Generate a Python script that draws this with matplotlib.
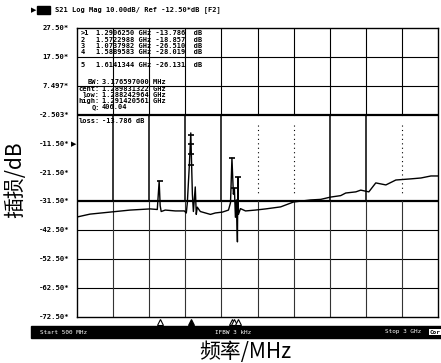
import numpy as np
import matplotlib
matplotlib.use('Agg')
import matplotlib.pyplot as plt
from matplotlib.patches import Rectangle

# trace (MHz, dB)
freq = [500, 590, 729, 868, 1007, 1056, 1069, 1076, 1083, 1111, 1181, 1243, 1257, 1264,
        1278, 1288, 1299, 1306, 1319, 1326, 1333, 1354, 1389, 1424, 1458, 1507, 1549,
        1563, 1573, 1583, 1590, 1597, 1604, 1611, 1614, 1618, 1632, 1667, 1736, 1806,
        1910, 2000, 2118, 2188, 2257, 2326, 2361, 2431, 2465, 2521, 2569, 2639, 2708,
        2813, 2882, 2951, 3000]
s21 = [-37.9, -36.9, -36.2, -35.5, -35.1, -35.3, -25.5, -34.0, -36.0, -35.5, -35.8, -35.8,
       -36.5, -33.0, -20.0, -8.8, -30.0, -36.0, -27.5, -37.0, -34.5, -36.0, -36.5, -37.0,
       -36.5, -36.2, -35.5, -33.0, -17.5, -30.0, -28.0, -38.0, -32.0, -46.5, -24.1, -37.0,
       -35.0, -35.8, -35.5, -35.1, -34.4, -32.7, -32.0, -31.8, -31.0, -30.5, -29.6, -29.2,
       -28.6, -29.2, -26.1, -26.8, -25.1, -24.7, -24.4, -23.7, -23.7]

mk_freq = [1290.6250, 1572.2988, 1073.7982, 1588.9583, 1614.1344]
mk_db = [-13.786, -18.857, -26.510, -28.019, -26.131]
mk_id = ['>1', '2', '3', '4', '5']
mk_text = ['1.2906250', '1.5722988', '1.0737982', '1.5889583', '1.6141344']
mk_val = ['-13.786', '-18.857', '-26.510', '-28.019', '-26.131']

bw_keys = ['BW:', 'cent:', 'low:', 'high:', 'Q:', 'loss:']
bw_vals = ['3.176597000 MHz', '1.289831322 GHz', '1.288242964 GHz', '1.291420561 GHz',
           '406.04', '-13.786 dB']

ytick_lab = ['27.50*', '17.50*', '7.497*', '-2.503*', '-11.50*', '-21.50*', '-31.50*',
             '-42.50*', '-52.50*', '-62.50*', '-72.50*']
yticks = [27.5 - 10 * i for i in range(11)]
xgrid = [500 + 250 * i for i in range(11)]

fig = plt.figure(figsize=(4.41, 3.63), dpi=100)
W, H = 441.0, 363.0
ax = fig.add_axes([77 / W, 1 - 317 / H, 361 / W, 289 / H])
ax.set_xlim(500, 3000)
ax.set_ylim(-72.5, 27.5)
ax.set_xticks([])
ax.set_yticks([])
for s in ax.spines.values():
    s.set_linewidth(1.0)

# horizontal grid: nothing between -2.5 and -32.5 except the two bold lines
for y in yticks[1:-1]:
    if y in (-12.5, -22.5):
        continue
    lw = 1.6 if y in (-2.5, -32.5) else 0.8
    ax.axhline(y, color='black', lw=lw, zorder=1)

# vertical grid
solid_mid = [750, 1000, 1250, 1500, 2250, 2500]
for x in xgrid[1:-1]:
    ax.plot([x, x], [27.5, -2.5], color='black', lw=0.8, zorder=1)
    ax.plot([x, x], [-32.5, -72.5], color='#333333', lw=0.8, zorder=1)
    if x in solid_mid:
        ax.plot([x, x], [-2.5, -32.5], color='black', lw=1.1, zorder=1)
    else:
        ax.plot([x, x], [-6, -30], color='black', lw=0.8, ls=(0, (1, 3)), zorder=1)

ax.plot(freq, s21, color='black', lw=1.0, zorder=3)
ax.plot(mk_freq, [-9.5, -17.5, -25.5, -28.0, -24.1], ls='none', marker='_', ms=4,
        mew=1.2, color='black', zorder=4)
ax.plot([1290, 1290, 1290], [-12.5, -16, -20], ls='none', marker='_', ms=4, mew=1.2,
        color='black', zorder=4)

# marker triangles under the grid
for i, f in enumerate(mk_freq):
    ax.plot(f, -74.3, marker='^', ms=4.5, mfc='black' if i == 0 else 'white',
            mec='black', mew=0.8, clip_on=False, zorder=5)

# marker table
tfont = dict(family='DejaVu Sans Mono', fontweight='bold', fontsize=5.0, va='center')
rows_y = [33, 39.5, 46, 52.5, 65]
for i in range(5):
    fig.text(81 / W, 1 - rows_y[i] / H, mk_id[i], ha='left', **tfont)
    fig.text(96 / W, 1 - rows_y[i] / H, mk_text[i] + ' GHz ' + mk_val[i] + '  dB',
             ha='left', **tfont)
bw_y = [82, 89, 95, 101, 107, 121]
for i in range(6):
    fig.text(100 / W, 1 - bw_y[i] / H, bw_keys[i], ha='right', **tfont)
    fig.text(102 / W, 1 - bw_y[i] / H, bw_vals[i], ha='left', **tfont)

# y labels
for y, lab in zip(yticks, ytick_lab):
    ypx = 28 + (27.5 - y) * 28.9 / 10
    fig.text(69 / W, 1 - ypx / H, lab, ha='right', va='center',
             family='DejaVu Sans Mono', fontweight='bold', fontsize=5.2)
fig.text(71 / W, 1 - 144 / H, '\u25b6', ha='left', va='center', fontsize=5)

# header
fig.text(31 / W, 1 - 10 / H, '\u25b6', ha='left', va='center', fontsize=5)
fig.patches.append(Rectangle((37 / W, 1 - 14 / H), 13 / W, 8 / H, color='black',
                             transform=fig.transFigure))
fig.text(55 / W, 1 - 10 / H, 'S21 Log Mag 10.00dB/ Ref -12.50*dB [F2]', ha='left',
         va='center', family='DejaVu Sans Mono', fontweight='bold', fontsize=5.0)

# bottom status bar
fig.patches.append(Rectangle((31 / W, 1 - 338 / H), 410 / W, 12 / H, color='black',
                             transform=fig.transFigure))
fig.text(40 / W, 1 - 332 / H, 'Start 500 MHz', color='white', ha='left', va='center',
         family='DejaVu Sans Mono', fontsize=4.3)
fig.text(215 / W, 1 - 332 / H, 'IFBW 3 kHz', color='white', ha='left', va='center',
         family='DejaVu Sans Mono', fontsize=4.3)
fig.text(385 / W, 1 - 332 / H, 'Stop 3 GHz', color='white', ha='left', va='center',
         family='DejaVu Sans Mono', fontsize=4.3)
fig.text(430 / W, 1 - 332 / H, 'Cor', color='black', ha='left', va='center',
         family='DejaVu Sans Mono', fontsize=4.3, fontweight='bold',
         bbox=dict(boxstyle='square,pad=0.1', fc='white', ec='none'))

cjk = ['Noto Sans CJK SC', 'DejaVu Sans']
fig.text(15 / W, 1 - 180 / H, '插损/dB', rotation=90, ha='center', va='center',
         family=cjk, fontsize=15)
fig.text(245 / W, 1 - 352 / H, '频率/MHz', ha='center', va='center', family=cjk,
         fontsize=15)

fig.savefig('out.png', dpi=100)
